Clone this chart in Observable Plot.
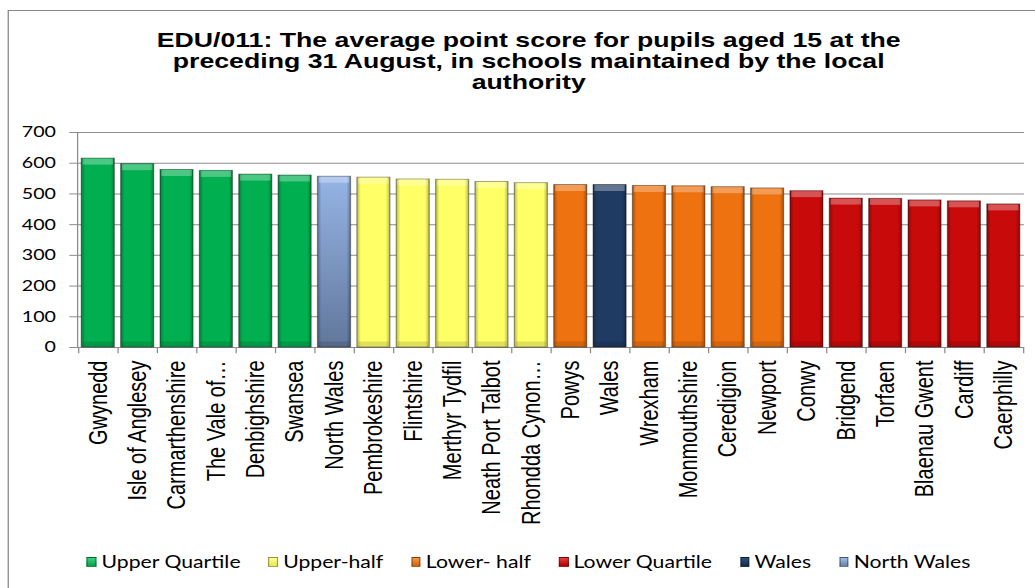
<!DOCTYPE html>
<html><head><meta charset="utf-8">
<script src="https://cdn.jsdelivr.net/npm/d3@7"></script>
<script src="https://cdn.jsdelivr.net/npm/@observablehq/plot@0.6"></script>
<style>
html,body{margin:0;padding:0;overflow:hidden;background:#fff;width:1035px;height:588px;}
#page{position:absolute;left:0;top:0;width:815px;height:588px;transform:scaleX(1.27);transform-origin:0 0;}
#frame{position:absolute;left:6.3px;top:10px;width:840px;height:600px;border:1px solid #888;box-sizing:border-box;}
#title{position:absolute;left:6.3px;top:29px;width:820px;text-align:center;font:bold 21px "Liberation Sans",Arial,sans-serif;line-height:21px;color:#000;}
#chart{position:absolute;left:0;top:110px;}
#legend{position:absolute;left:6.3px;top:550px;width:820px;display:flex;justify-content:center;gap:22px;font:16.7px Lato,sans-serif;color:#000;line-height:24px;}
#legend .item{display:flex;align-items:center;gap:4px;}
#legend .sw{width:7.5px;height:10px;box-sizing:border-box;border:1px solid rgba(0,0,0,0.35);}
#defs{position:absolute;width:0;height:0;}
</style></head>
<body>
<svg id="defs" width="0" height="0">
  <defs>
    <linearGradient id="hshade" x1="0" x2="1" y1="0" y2="0">
      <stop offset="0" stop-color="#000" stop-opacity="0.28"/>
      <stop offset="0.12" stop-color="#000" stop-opacity="0"/>
      <stop offset="0.88" stop-color="#000" stop-opacity="0"/>
      <stop offset="1" stop-color="#000" stop-opacity="0.28"/>
    </linearGradient>
    <linearGradient id="gNW" x1="0" x2="0" y1="0" y2="1">
      <stop offset="0" stop-color="#95B5E6"/>
      <stop offset="1" stop-color="#61779B"/>
    </linearGradient>
  </defs>
</svg>
<div id="page">
<div id="frame"></div>
<div id="title">EDU/011: The average point score for pupils aged 15 at the<br>preceding 31 August, in schools maintained by the local<br>authority</div>
<div id="chart"></div>
<div id="legend"></div>
</div>
<script>
const categories = ["Gwynedd","Isle of Anglesey","Carmarthenshire","The Vale of Glamorgan","Denbighshire","Swansea","North Wales","Pembrokeshire","Flintshire","Merthyr Tydfil","Neath Port Talbot","Rhondda Cynon Taf","Powys","Wales","Wrexham","Monmouthshire","Ceredigion","Newport","Conwy","Bridgend","Torfaen","Blaenau Gwent","Cardiff","Caerphilly"];
const tickLabels = ["Gwynedd","Isle of Anglesey","Carmarthenshire","The Vale of…","Denbighshire","Swansea","North Wales","Pembrokeshire","Flintshire","Merthyr Tydfil","Neath Port Talbot","Rhondda Cynon…","Powys","Wales","Wrexham","Monmouthshire","Ceredigion","Newport","Conwy","Bridgend","Torfaen","Blaenau Gwent","Cardiff","Caerphilly"];
const values = [615,597,578,575,563,560,556,553,547,546,539,535,529,529,526,525,522,518,509,485,484,479,476,466];
const groups = ["Upper Quartile","Upper Quartile","Upper Quartile","Upper Quartile","Upper Quartile","Upper Quartile","North Wales","Upper-half","Upper-half","Upper-half","Upper-half","Upper-half","Lower- half","Wales","Lower- half","Lower- half","Lower- half","Lower- half","Lower Quartile","Lower Quartile","Lower Quartile","Lower Quartile","Lower Quartile","Lower Quartile"];
const legendNames = ["Upper Quartile","Upper-half","Lower- half","Lower Quartile","Wales","North Wales"];
const legendColors = ["#00B050","#FFFF66","#EE7210","#C80A0A","#1F3B63","url(#gNW)"];
const legendSwatch = ["linear-gradient(#3fd07f,#00a048)","linear-gradient(#ffff99,#e8e850)","linear-gradient(#f59a4a,#d06008)","linear-gradient(#e84040,#b00000)","linear-gradient(#2f5080,#152a48)","linear-gradient(#a0bde8,#6a80a8)"];
const yTicks = [0,100,200,300,400,500,600,700];

const data = categories.map((c,i)=>({name:c, value:values[i], group:groups[i]}));

const W = 815, ML = 60.6, MR = 8.7;
const step = (W - ML - MR) / categories.length;
const inset = step * 0.085;
const font = '"Liberation Sans", Arial, sans-serif';

const chart = Plot.plot({
  width: W, height: 430,
  marginLeft: ML, marginRight: MR, marginTop: 22, marginBottom: 193,
  x: {domain: categories, paddingInner: 0.17, paddingOuter: 0.085, align: 0.5},
  y: {domain: [0,700]},
  color: {domain: legendNames, range: legendColors},
  marks: [
    Plot.ruleY(yTicks, {stroke: "#8c8c8c", strokeWidth: 1}),
    Plot.frame({anchor: "left", stroke: "#8c8c8c"}),
    Plot.ruleX(categories, {x: d=>d, dx: -step/2, y1: 0, y2: -20, stroke: "#8c8c8c"}),
    Plot.ruleX(categories.slice(-1), {x: d=>d, dx: step/2, y1: 0, y2: -20, stroke: "#8c8c8c"}),
    Plot.barY(data, {x: "name", y: "value", fill: "group"}),
    Plot.barY(data, {x: "name", y: "value", fill: "url(#hshade)", stroke: "rgba(0,0,0,0.35)", strokeWidth: 1}),
    Plot.tickY(data, {x: "name", y: "value", dy: 3, strokeWidth: 6, stroke: "white", strokeOpacity: 0.3, insetLeft: inset*0.4, insetRight: inset*0.4}),
    Plot.tickY(data, {x: "name", y: 0, dy: -3, strokeWidth: 6, stroke: "black", strokeOpacity: 0.12, insetLeft: inset*0.4, insetRight: inset*0.4}),
    Plot.axisY({ticks: yTicks, tickSize: 6, tickPadding: 11, stroke: "#8c8c8c", fill: "#000", fontSize: 15.5, fontFamily: 'Lato, sans-serif', label: null}),
    Plot.axisX({tickSize: 0, tickPadding: 13, tickRotate: -90, tickFormat: d => tickLabels[categories.indexOf(d)], fill: "#000", fontSize: 20, fontFamily: font, label: null})
  ]
});
document.getElementById("chart").appendChild(chart);

const lg = document.getElementById("legend");
legendNames.forEach((n,i)=>{
  const it = document.createElement("div"); it.className = "item";
  const sw = document.createElement("span"); sw.className = "sw"; sw.style.background = legendSwatch[i];
  const tx = document.createElement("span"); tx.textContent = n;
  it.appendChild(sw); it.appendChild(tx); lg.appendChild(it);
});
</script>
</body></html>
